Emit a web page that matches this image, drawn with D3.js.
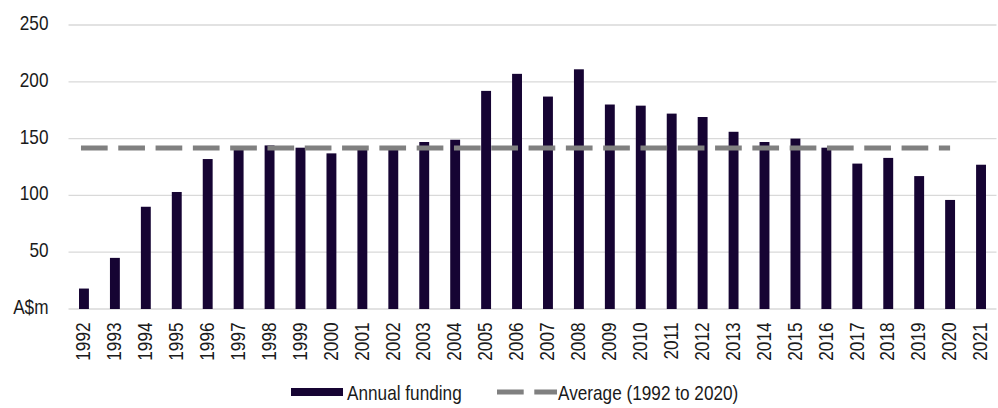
<!DOCTYPE html>
<html>
<head>
  <meta charset="utf-8">
  <style>
    body { margin: 0; background: #fff; }
    svg { display: block; font-family: "Liberation Sans", Arial, sans-serif; }
    .grid line { stroke: #d9d9d9; stroke-width: 1.3; }
    .bar { fill: #160433; }
    .tick-label { font-size: 20px; fill: #1a1a1a; }
  </style>
</head>
<body>
  <script src="https://d3js.org/d3.v7.min.js"></script>
  <svg width="998" height="408"></svg>

  <script>
    // years on the x axis
    var years = ["1992","1993","1994","1995","1996","1997","1998","1999","2000","2001",
                 "2002","2003","2004","2005","2006","2007","2008","2009","2010","2011",
                 "2012","2013","2014","2015","2016","2017","2018","2019","2020","2021"];
    // annual funding, A$m
    var funding = [18, 45, 90, 103, 132, 140, 144, 142, 137, 140,
                   143, 147, 149, 192, 207, 187, 211, 180, 179, 172,
                   169, 156, 147, 150, 142, 128, 133, 117, 96, 127];
    // average line value and the years it spans
    var averageValue = 141.7;
    var averageSpan = ["1992", "2020"];
    var yTicks = [0, 50, 100, 150, 200, 250];
    var seriesNames = ["Annual funding", "Average (1992 to 2020)"];

    var data = years.map(function(y, i) { return {year: y, value: funding[i]}; });

    var svg = d3.select("svg"),
        margin = {top: 25, right: 1.5, bottom: 99, left: 68.5},
        width = +svg.attr("width") - margin.left - margin.right,
        height = +svg.attr("height") - margin.top - margin.bottom;

    var squeeze = " scale(0.86,1)"; // the source text is horizontally condensed

    var x = d3.scaleBand().domain(years).range([0, width])
        .paddingInner(0.68).paddingOuter(0.34);
    var y = d3.scaleLinear().domain([0, 250]).range([height, 0]);

    var g = svg.append("g")
        .attr("transform", "translate(" + margin.left + "," + margin.top + ")");

    // horizontal gridlines (the 0 one doubles as the baseline)
    g.append("g").attr("class", "grid")
      .selectAll("line").data(yTicks).enter().append("line")
        .attr("x1", 0).attr("x2", width)
        .attr("y1", function(d) { return y(d); })
        .attr("y2", function(d) { return y(d); });

    // y labels, 0 is shown as the unit
    g.append("g").selectAll("text").data(yTicks).enter().append("text")
        .attr("class", "tick-label")
        .attr("transform", function(d) {
          return "translate(-20," + (y(d) + 5) + ")" + squeeze;
        })
        .attr("text-anchor", "end")
        .text(function(d) { return d === 0 ? "A$m" : d; });

    // bars
    g.selectAll(".bar").data(data).enter().append("rect")
        .attr("class", "bar")
        .attr("x", function(d) { return x(d.year); })
        .attr("y", function(d) { return y(d.value); })
        .attr("width", x.bandwidth())
        .attr("height", function(d) { return height - y(d.value); });

    // average line
    var cx = function(yr) { return x(yr) + x.bandwidth() / 2; };
    g.append("line")
        .attr("x1", cx(averageSpan[0]) - 3)
        .attr("x2", cx(averageSpan[1]))
        .attr("y1", y(averageValue)).attr("y2", y(averageValue))
        .attr("stroke", "#808080").attr("stroke-width", 5)
        .attr("stroke-dasharray", "26.7,10.6");

    // x labels, rotated
    g.append("g").selectAll("text").data(years).enter().append("text")
        .attr("class", "tick-label")
        .attr("transform", function(d) {
          return "translate(" + (cx(d) - 1) + "," + (height + 13.5) + ") rotate(-90)" + squeeze;
        })
        .attr("dy", "0.36em")
        .attr("text-anchor", "end")
        .text(function(d) { return d; });

    // legend
    var lg = svg.append("g");
    lg.append("rect").attr("x", 291).attr("y", 388).attr("width", 52).attr("height", 8)
        .attr("class", "bar");
    lg.append("text").attr("class", "tick-label")
        .attr("transform", "translate(347,400)" + squeeze)
        .text(seriesNames[0]);
    lg.append("line").attr("x1", 497).attr("x2", 557).attr("y1", 392).attr("y2", 392)
        .attr("stroke", "#808080").attr("stroke-width", 5)
        .attr("stroke-dasharray", "26.7,10.6");
    lg.append("text").attr("class", "tick-label")
        .attr("transform", "translate(558,400)" + squeeze)
        .text(seriesNames[1]);
  </script>
</body>
</html>
